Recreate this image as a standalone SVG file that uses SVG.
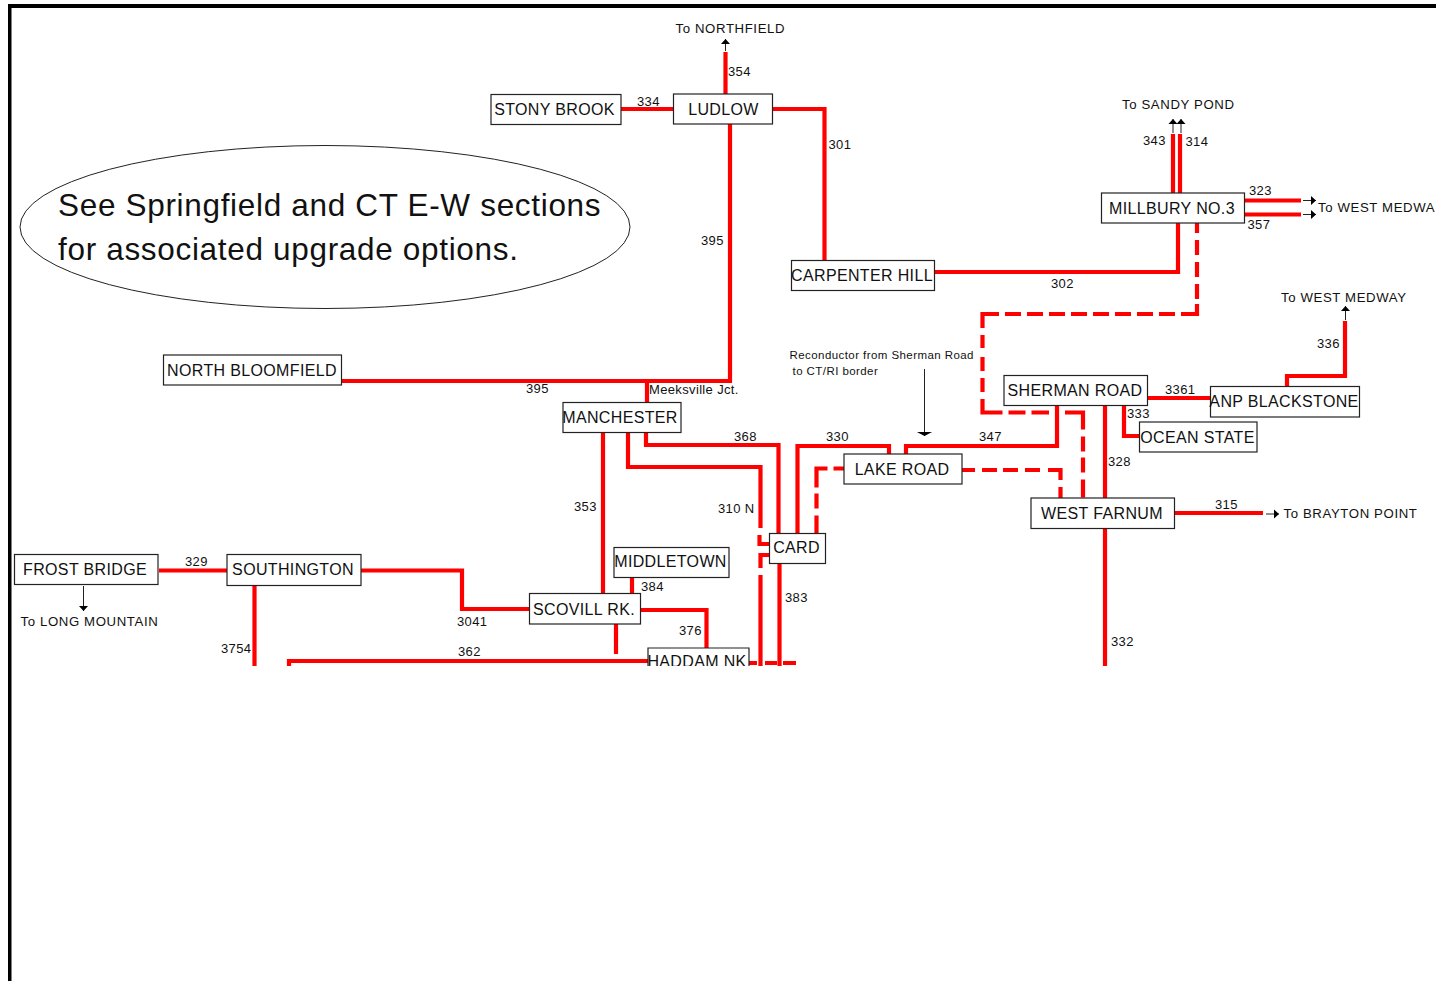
<svg xmlns="http://www.w3.org/2000/svg" width="1436" height="981" viewBox="0 0 1436 981">
<style>
text{font-family:"Liberation Sans",Arial,sans-serif;fill:#111}
.n rect{fill:#fff;stroke:#222;stroke-width:1.2}
.n text{font-size:16px;letter-spacing:.35px;text-anchor:middle}
.l{font-size:13px;letter-spacing:.35px}
.t{font-size:13.2px;letter-spacing:.62px}
.s{font-size:11.500px;letter-spacing:.43px}
.b{font-size:31.500px;letter-spacing:.68px}
.r{fill:none;stroke:#f00;stroke-width:4.200}
.a{fill:none;stroke:#222;stroke-width:1}
</style>
<defs>
<marker id="ah" markerWidth="6" markerHeight="10" refX="5" refY="5" orient="auto" markerUnits="userSpaceOnUse"><path d="M0 .5L5 5L0 9.500L3 5Z M0 .5L5 5L0 9.500Z" fill="#000"/></marker>
<marker id="ah2" markerWidth="6" markerHeight="18" refX="4.500" refY="9" orient="auto" markerUnits="userSpaceOnUse"><path d="M0 .5L4.500 9L0 17.500Z" fill="#000"/></marker>
<clipPath id="c"><rect x="0" y="0" width="1436" height="666"/></clipPath>
</defs>
<rect width="1436" height="981" fill="#fff"/>
<rect x="8" y="4" width="1428" height="4" fill="#000"/>
<rect x="8" y="4" width="3.500" height="977" fill="#000"/>
<ellipse id="note-shape" cx="325" cy="227" rx="305" ry="81.500" fill="#fff" stroke="#222" stroke-width="1"/>
<g id="connectors">
<g clip-path="url(#c)">
<path class="r" d="M725.500 94V52"/>
<path class="r" d="M620 109H674"/>
<path class="r" d="M772 109H824.500V261"/>
<path class="r" d="M730 124V381H342"/>
<path class="r" d="M647 381V404"/>
<path class="r" d="M935 272H1178V223"/>
<path class="r" d="M1173 193V134"/>
<path class="r" d="M1180 193V134"/>
<path class="r" d="M1245 200.500H1301"/>
<path class="r" d="M1245 214.500H1301"/>
<path class="r" stroke-dasharray="10 7 15 7 15 7 15 5 26 6 16 6 16 6 16 6 16 6 16 6 16 6 16 6 16 6 30.500 7 13 9 14 7 14 7 33.500 6 17 6 18 100" d="M1197 223V314H982.500V412.500H1049"/>
<path class="r" stroke-dasharray="35 7 15 6 15 7 18 20" d="M1065 412.500H1083V498"/>
<path class="r" d="M1057 405V446H906V454"/>
<path class="r" d="M1105 405V498"/>
<path class="r" d="M1105 528V666"/>
<path class="r" d="M1147 398H1210"/>
<path class="r" d="M1124 405V436H1140"/>
<path class="r" d="M1287 386V376H1345V321"/>
<path class="r" d="M1175 513H1263"/>
<path class="r" stroke-dasharray="13 7 15 6 15 7 15 8 22.500 7 11 20" d="M962 470H1060.500V498"/>
<path class="r" stroke-dasharray="18 7 15 6 30 6 12 20" d="M816.500 533.500V468.500H844"/>
<path class="r" d="M797.500 534V446H889V454"/>
<path class="r" d="M646 433V445H778.500V534"/>
<path class="r" d="M628 433V467H760.500V528"/>
<path class="r" d="M759.500 535V544H770"/>
<path class="r" d="M770 555H760.500V568"/>
<path class="r" d="M760.500 575V666"/>
<path class="r" d="M779.500 563V666"/>
<path class="r" d="M603 433V593"/>
<path class="r" d="M632 578V593"/>
<path class="r" d="M641 610H706.500V648"/>
<path class="r" d="M616 624V654"/>
<path class="r" d="M530 609H462V570.500H361"/>
<path class="r" d="M159 570.500H227"/>
<path class="r" d="M254.500 585V666"/>
<path class="r" d="M289 666V661H648"/>
<path class="r" stroke-dasharray="8 8 12 6 13 20" d="M749 663H796V666"/>
</g>
<path class="a" d="M725.500 51V39" marker-end="url(#ah)"/>
<path class="a" d="M1173 133V119" marker-end="url(#ah)"/>
<path class="a" d="M1181 133V119" marker-end="url(#ah)"/>
<path class="a" d="M1303 200.500H1316" marker-end="url(#ah)"/>
<path class="a" d="M1303 214.500H1316" marker-end="url(#ah)"/>
<path class="a" d="M1345.500 320V306" marker-end="url(#ah)"/>
<path class="a" d="M1266 514H1279" marker-end="url(#ah)"/>
<path class="a" d="M83.500 586V611" marker-end="url(#ah)"/>
<path class="a" d="M924.500 369V436" marker-end="url(#ah2)"/>
</g>
<g id="stony-brook" class="n"><rect x="491" y="94.500" width="130" height="30"/><text x="554.500" y="115">STONY BROOK</text></g>
<g id="ludlow" class="n"><rect x="673.500" y="94" width="99" height="30"/><text x="723.500" y="114.500">LUDLOW</text></g>
<g id="millbury" class="n"><rect x="1101.500" y="193" width="143" height="30"/><text x="1172" y="214">MILLBURY NO.3</text></g>
<g id="carpenter-hill" class="n"><rect x="791.500" y="260.500" width="143" height="30"/><text x="862" y="281">CARPENTER HILL</text></g>
<g id="north-bloomfield" class="n"><rect x="163.500" y="355" width="178" height="30"/><text x="252" y="376">NORTH BLOOMFIELD</text></g>
<g id="manchester" class="n"><rect x="563" y="402.500" width="118" height="30"/><text x="620" y="423">MANCHESTER</text></g>
<g id="sherman-road" class="n"><rect x="1004" y="375.500" width="143.500" height="30"/><text x="1075" y="396">SHERMAN ROAD</text></g>
<g id="anp-blackstone" class="n"><rect x="1210.500" y="386.500" width="149" height="30.500"/><text x="1284" y="407">ANP BLACKSTONE</text></g>
<g id="ocean-state" class="n"><rect x="1139.500" y="422" width="117.500" height="30"/><text x="1197.500" y="443">OCEAN STATE</text></g>
<g id="lake-road" class="n"><rect x="844" y="454" width="118" height="30"/><text x="902" y="475">LAKE ROAD</text></g>
<g id="west-farnum" class="n"><rect x="1031" y="498" width="143.500" height="30.500"/><text x="1102" y="519">WEST FARNUM</text></g>
<g id="card" class="n"><rect x="769.500" y="533.500" width="56" height="30"/><text x="796.500" y="553">CARD</text></g>
<g id="middletown" class="n"><rect x="614" y="547.500" width="115" height="30"/><text x="670.500" y="567">MIDDLETOWN</text></g>
<g id="frost-bridge" class="n"><rect x="14.500" y="554.500" width="143.500" height="30"/><text x="85" y="575">FROST BRIDGE</text></g>
<g id="southington" class="n"><rect x="227" y="554.500" width="134" height="31"/><text x="293" y="575">SOUTHINGTON</text></g>
<g id="scovill-rk" class="n"><rect x="529.500" y="593.500" width="111" height="30.500"/><text x="584" y="615">SCOVILL RK.</text></g>
<g id="haddam-nk" class="n"><path d="M648 666V648H749V666" fill="#fff" stroke="#222" stroke-width="1.200"/><g clip-path="url(#c)"><text x="697" y="667">HADDAM NK</text></g></g>
<g id="labels">
<text class="l" x="728" y="76">354</text>
<text class="l" x="637" y="106">334</text>
<text class="l" x="828.500" y="149">301</text>
<text class="l" x="701" y="245">395</text>
<text class="l" x="1051" y="288">302</text>
<text class="l" x="1143" y="145">343</text>
<text class="l" x="1185.500" y="146">314</text>
<text class="l" x="1249" y="195">323</text>
<text class="l" x="1247.500" y="229">357</text>
<text class="l" x="1317" y="348">336</text>
<text class="l" x="526" y="393">395</text>
<text class="l" x="649" y="394">Meeksville Jct.</text>
<text class="l" x="1165" y="394">3361</text>
<text class="l" x="1127" y="418">333</text>
<text class="l" x="734" y="441">368</text>
<text class="l" x="826" y="441">330</text>
<text class="l" x="979" y="441">347</text>
<text class="l" x="1108" y="466">328</text>
<text class="l" x="1215" y="509">315</text>
<text class="l" x="574" y="511">353</text>
<text class="l" x="718" y="513">310 N</text>
<text class="l" x="185" y="566">329</text>
<text class="l" x="641" y="591">384</text>
<text class="l" x="785" y="602">383</text>
<text class="l" x="457" y="626">3041</text>
<text class="l" x="679" y="635">376</text>
<text class="l" x="1111" y="646">332</text>
<text class="l" x="221" y="653">3754</text>
<text class="l" x="458" y="656">362</text>
<text class="t" x="675.500" y="33">To NORTHFIELD</text>
<text class="t" x="1122" y="109">To SANDY POND</text>
<text class="t" x="1318" y="212">To WEST MEDWA</text>
<text class="t" x="1281" y="302">To WEST MEDWAY</text>
<text class="t" x="1283.500" y="518">To BRAYTON POINT</text>
<text class="t" x="20.500" y="626">To LONG MOUNTAIN</text>
<text class="s" x="789.500" y="359">Reconductor from Sherman Road</text>
<text class="s" x="792.500" y="375">to CT/RI border</text>
<text class="b" x="58" y="216">See Springfield and CT E-W sections</text>
<text class="b" x="58" y="260">for associated upgrade options.</text>
</g>
</svg>
